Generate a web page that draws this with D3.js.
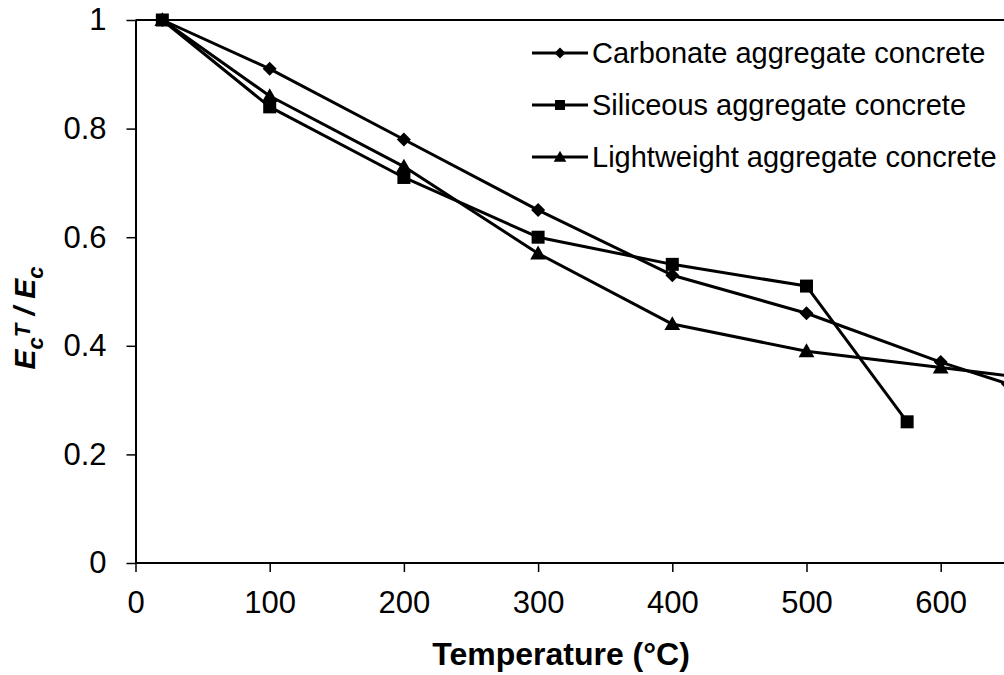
<!DOCTYPE html>
<html>
<head>
<meta charset="utf-8">
<script src="https://cdn.jsdelivr.net/npm/d3@7"></script>
<style>
  html, body { margin: 0; padding: 0; background: #fff; }
  svg { display: block; }
  text { font-family: "Liberation Sans", Arial, sans-serif; fill: #000; }
</style>
</head>
<body>
<svg id="chart" width="1004" height="675"></svg>
<script>
// Elastic modulus ratio of concrete versus temperature
const seriesNames = ["Carbonate aggregate concrete", "Siliceous aggregate concrete", "Lightweight aggregate concrete"];
const carbonateTemp = [20, 100, 200, 300, 400, 500, 600, 650];
const carbonateRatio = [1, 0.91, 0.78, 0.65, 0.53, 0.46, 0.37, 0.33];
const siliceousTemp = [20, 100, 200, 300, 400, 500, 575];
const siliceousRatio = [1, 0.84, 0.71, 0.60, 0.55, 0.51, 0.26];
const lightweightTemp = [20, 100, 200, 300, 400, 500, 600, 700];
const lightweightRatio = [1, 0.86, 0.73, 0.57, 0.44, 0.39, 0.36, 0.33];
const xTicks = [0, 100, 200, 300, 400, 500, 600];
const yTicks = [0, 0.2, 0.4, 0.6, 0.8, 1];

const svg = d3.select("#chart");
const plotLeft = 135.5, plotTop = 20, plotBottom = 563, plotRight = 1004;
const x = d3.scaleLinear().domain([0, 700]).range([plotLeft, plotLeft + 7 * 134.2]);
const y = d3.scaleLinear().domain([0, 1]).range([plotBottom, plotTop]);

// marker shapes
const markerPath = {
  diamond: s => `M0,${-s}L${s},0L0,${s}L${-s},0Z`,
  square: s => `M${-s},${-s}H${s}V${s}H${-s}Z`,
  triangle: s => `M0,${-s * 1.05}L${s * 1.05},${s * 0.8}L${-s * 1.05},${s * 0.8}Z`
};
const series = [
  { name: seriesNames[0], t: carbonateTemp, v: carbonateRatio, shape: "diamond", size: 7 },
  { name: seriesNames[1], t: siliceousTemp, v: siliceousRatio, shape: "square", size: 6.5 },
  { name: seriesNames[2], t: lightweightTemp, v: lightweightRatio, shape: "triangle", size: 7.5 }
];

// top border of plot area
svg.append("line")
  .attr("x1", plotLeft).attr("x2", plotRight)
  .attr("y1", y(1)).attr("y2", y(1))
  .attr("stroke", "#000").attr("stroke-width", 2);

// axes
const xAxis = svg.append("g")
  .attr("transform", `translate(0,${plotBottom})`)
  .call(d3.axisBottom(x).tickValues(xTicks).tickFormat(d3.format("d")).tickSize(9).tickSizeOuter(0).tickPadding(19));
const yAxis = svg.append("g")
  .attr("transform", `translate(${plotLeft},0)`)
  .call(d3.axisLeft(y).tickValues(yTicks).tickFormat(d => d === 0 || d === 1 ? d3.format("d")(d) : d3.format(".1f")(d)).tickSize(9).tickSizeOuter(0).tickPadding(20));
[xAxis, yAxis].forEach(g => {
  g.select(".domain").attr("stroke", "#000").attr("stroke-width", 2);
  g.selectAll(".tick line").attr("stroke", "#000").attr("stroke-width", 1.5);
  g.selectAll(".tick text").attr("font-size", 31).attr("font-family", "Liberation Sans, Arial, sans-serif");
});
xAxis.select(".domain").attr("d", `M${plotLeft},0H${plotRight}`);

// series lines and markers
const line = d3.line().x(d => x(d[0])).y(d => y(d[1]));
series.forEach(s => {
  const pts = s.t.map((t, i) => [t, s.v[i]]);
  svg.append("path")
    .attr("d", line(pts))
    .attr("fill", "none").attr("stroke", "#000").attr("stroke-width", 3)
    .attr("stroke-linejoin", "round");
});
series.forEach(s => {
  const pts = s.t.map((t, i) => [t, s.v[i]]);
  svg.append("g").selectAll("path").data(pts).join("path")
    .attr("transform", d => `translate(${x(d[0])},${y(d[1])})`)
    .attr("d", markerPath[s.shape](s.size))
    .attr("fill", "#000");
});

// legend
const legend = svg.append("g");
series.forEach((s, i) => {
  const ly = 53 + i * 52;
  legend.append("line").attr("x1", 532).attr("x2", 588).attr("y1", ly).attr("y2", ly)
    .attr("stroke", "#000").attr("stroke-width", 3);
  legend.append("path").attr("transform", `translate(560,${ly})`)
    .attr("d", markerPath[s.shape](s.size - 1.5)).attr("fill", "#000");
  legend.append("text").attr("x", 592).attr("y", ly + 10)
    .attr("font-size", 29).text(s.name);
});

// axis titles
svg.append("text")
  .attr("x", 561).attr("y", 665)
  .attr("text-anchor", "middle")
  .attr("font-size", 32).attr("font-weight", "bold")
  .text("Temperature (°C)");

const yt = svg.append("text")
  .attr("transform", "translate(35,318) rotate(-90)")
  .attr("text-anchor", "middle")
  .attr("font-size", 30).attr("font-weight", "bold").attr("font-style", "italic");
yt.append("tspan").text("E");
yt.append("tspan").attr("font-size", 22).attr("dy", 8).text("c");
yt.append("tspan").attr("font-size", 22).attr("dy", -13).text("T");
yt.append("tspan").attr("dy", 5).text(" / E");
yt.append("tspan").attr("font-size", 22).attr("dy", 8).text("c");
</script>
</body>
</html>
